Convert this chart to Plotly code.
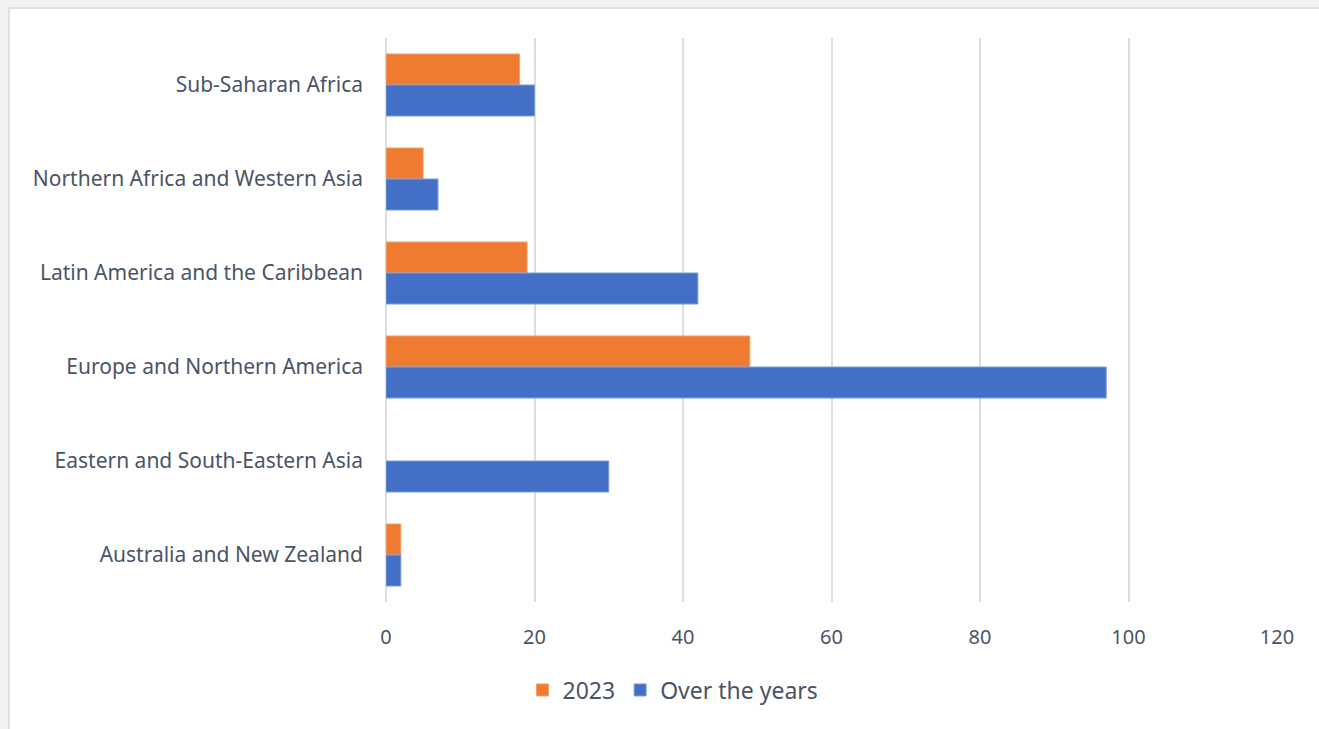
import plotly.graph_objects as go

# Regions, listed top to bottom as drawn
regions = [
    "Sub-Saharan Africa",
    "Northern Africa and Western Asia",
    "Latin America and the Caribbean",
    "Europe and Northern America",
    "Eastern and South-Eastern Asia",
    "Australia and New Zealand",
]
values_2023 = [18, 5, 19, 49, 0, 2]
values_over_years = [20, 7, 42, 97, 30, 2]

x_ticks = [0, 20, 40, 60, 80, 100, 120]

ORANGE = "#EE7B30"
ORANGE_EDGE = "#F4A06C"
BLUE = "#4370C6"
BLUE_EDGE = "#7C9CDA"
TEXT = "#4B5466"
GRID = "#DADFE6"


def edge_widths(vals):
    # no outline on empty bars, so a zero value leaves nothing behind
    return [1 if v > 0 else 0 for v in vals]


fig = go.Figure()
fig.add_trace(go.Bar(
    y=regions, x=values_2023, name="2023", orientation="h",
    marker=dict(color=ORANGE,
                line=dict(color=ORANGE_EDGE, width=edge_widths(values_2023))),
))
fig.add_trace(go.Bar(
    y=regions, x=values_over_years, name="Over the years", orientation="h",
    marker=dict(color=BLUE,
                line=dict(color=BLUE_EDGE, width=edge_widths(values_over_years))),
))

L, R, T, B = 386, 42, 38, 127
W, H = 1319, 729
pw, ph = W - L - R, H - T - B


def px_x(p):
    return (p - L) / pw


def px_y(p):
    return (H - B - p) / ph


# white card with a thin border on the grey page
fig.add_shape(
    type="rect", xref="paper", yref="paper", layer="below",
    x0=px_x(9), x1=px_x(W + 20), y0=px_y(8), y1=px_y(H + 20),
    fillcolor="white", line=dict(color="#DDE2E9", width=2),
)

fig.update_layout(
    width=W, height=H,
    margin=dict(l=L, r=R, t=T, b=B, pad=0),
    paper_bgcolor="#F2F2F2",
    plot_bgcolor="white",
    barmode="group",
    bargap=0.34,
    bargroupgap=0,
    font=dict(family="Noto Sans, Open Sans, sans-serif", color=TEXT, size=18),
    showlegend=True,
    legend=dict(
        orientation="h", x=px_x(673), xanchor="center",
        y=px_y(690), yanchor="middle",
        font=dict(size=23, color=TEXT), bgcolor="rgba(0,0,0,0)",
        itemwidth=30, tracegroupgap=0,
    ),
    xaxis=dict(
        range=[0, 120], tickvals=x_ticks, showgrid=True, gridcolor=GRID,
        gridwidth=2, zeroline=True, zerolinecolor=GRID, zerolinewidth=2,
        showline=False, ticks="", tickfont=dict(size=20, color=TEXT),
        ticklabelstandoff=21, fixedrange=True,
    ),
    yaxis=dict(
        autorange="reversed", showgrid=False, zeroline=False, showline=False,
        ticks="", tickfont=dict(size=21, color=TEXT), ticklabelstandoff=22,
        fixedrange=True,
    ),
)

fig.write_html("out.html")
